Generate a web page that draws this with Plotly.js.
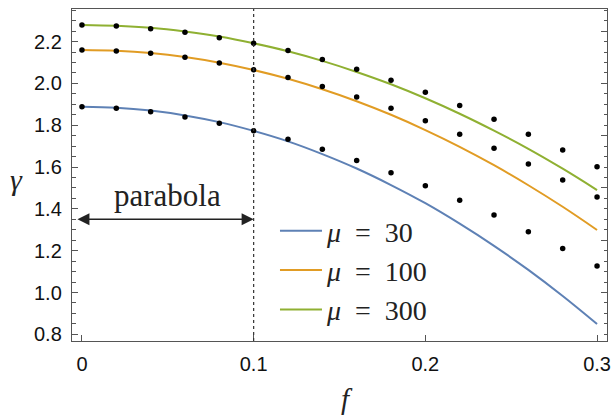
<!DOCTYPE html>
<html>
<head>
<meta charset="utf-8">
<script src="https://cdn.plot.ly/plotly-3.0.1.min.js"></script>
<style>html,body{margin:0;padding:0;background:#fff;}#chart{width:614px;height:419px;}</style>
</head>
<body>
<div id="chart"></div>
<script>
// f values (sampled points and curve nodes)
const fVals = [0, 0.02, 0.04, 0.06, 0.08, 0.10, 0.12, 0.14, 0.16, 0.18, 0.20, 0.22, 0.24, 0.26, 0.28, 0.30];

// fitted curves
const curve30  = [1.889, 1.884, 1.870, 1.847, 1.815, 1.773, 1.723, 1.662, 1.593, 1.514, 1.427, 1.329, 1.223, 1.108, 0.983, 0.849];
const curve100 = [2.160, 2.156, 2.145, 2.126, 2.099, 2.064, 2.022, 1.972, 1.915, 1.850, 1.777, 1.697, 1.609, 1.513, 1.410, 1.299];
const curve300 = [2.280, 2.276, 2.266, 2.248, 2.224, 2.192, 2.154, 2.108, 2.055, 1.996, 1.929, 1.855, 1.774, 1.687, 1.592, 1.490];

// data points (black dots)
const dots30  = [1.889, 1.881, 1.864, 1.840, 1.810, 1.774, 1.733, 1.685, 1.631, 1.573, 1.510, 1.441, 1.371, 1.291, 1.211, 1.127];
const dots100 = [2.160, 2.155, 2.144, 2.125, 2.098, 2.065, 2.028, 1.985, 1.935, 1.881, 1.822, 1.757, 1.690, 1.615, 1.538, 1.457];
const dots300 = [2.280, 2.275, 2.262, 2.245, 2.219, 2.192, 2.157, 2.114, 2.068, 2.015, 1.958, 1.894, 1.829, 1.757, 1.682, 1.602];

const seriesNames = ["<i>μ</i>\u2002=\u200230", "<i>μ</i>\u2002=\u2002100", "<i>μ</i>\u2002=\u2002300"];
const seriesColors = ["#5E81B5", "#E19C24", "#8FB032"];

const xTicks = [0, 0.1, 0.2, 0.3];
const xTickText = ["0", "0.1", "0.2", "0.3"];
const yTicks = [0.8, 1.0, 1.2, 1.4, 1.6, 1.8, 2.0, 2.2];
const yTickText = ["0.8", "1.0", "1.2", "1.4", "1.6", "1.8", "2.0", "2.2"];

const parabolaEnd = 0.1;

const curves = [curve30, curve100, curve300];
const dots = [dots30, dots100, dots300];

const traces = [];
curves.forEach((c, i) => {
  traces.push({
    x: fVals, y: c, type: 'scatter', mode: 'lines',
    name: seriesNames[i],
    line: {color: seriesColors[i], width: 2, shape: 'spline'},
    hoverinfo: 'skip'
  });
});
dots.forEach((d, i) => {
  traces.push({
    x: fVals, y: d, type: 'scatter', mode: 'markers',
    showlegend: false,
    marker: {color: '#000', size: 5.5}
  });
});
// invisible trace on the right axis for mirrored ticks
traces.push({x: [0], y: [1], yaxis: 'y2', mode: 'markers', marker: {opacity: 0}, showlegend: false, hoverinfo: 'skip'});

const frameColor = '#555';
const sansFont = {family: 'Liberation Sans', size: 20, color: '#111'};
const serif = 'Liberation Serif';

const layout = {
  width: 614, height: 419,
  margin: {l: 72, r: 7, t: 9, b: 78},
  paper_bgcolor: '#fff', plot_bgcolor: '#fff',
  showlegend: true,
  legend: {
    x: 0.3794, y: 0.4066, xanchor: 'left', yanchor: 'top',
    itemwidth: 42,
    font: {family: serif, size: 28, color: '#222'},
    bgcolor: 'rgba(0,0,0,0)', borderwidth: 0
  },
  xaxis: {
    range: [-0.0058, 0.3058],
    tickvals: xTicks, ticktext: xTickText,
    ticks: 'inside', ticklen: 6, tickwidth: 1, tickcolor: frameColor,
    ticklabelstandoff: 5,
    showline: true, linecolor: frameColor, linewidth: 1.2, mirror: true,
    showgrid: false, zeroline: false,
    tickfont: sansFont
  },
  yaxis: {
    range: [0.768, 2.356],
    tickvals: yTicks, ticktext: yTickText,
    ticks: 'inside', ticklen: 6, tickwidth: 1, tickcolor: frameColor,
    ticklabelstandoff: 5,
    minor: {dtick: 0.05, tick0: 0, ticks: 'inside', ticklen: 3.5, tickcolor: frameColor, showgrid: false},
    showline: true, linecolor: frameColor, linewidth: 1.2, mirror: true,
    showgrid: false, zeroline: false,
    tickfont: sansFont
  },
  yaxis2: {
    overlaying: 'y', side: 'right',
    range: [0.768, 2.356],
    dtick: 0.25, tick0: 0,
    ticks: 'inside', ticklen: 6, tickwidth: 1, tickcolor: frameColor,
    minor: {dtick: 0.05, tick0: 0, ticks: 'inside', ticklen: 3.5, tickcolor: frameColor, showgrid: false},
    showticklabels: false, showline: false, showgrid: false, zeroline: false
  },
  shapes: [{
    type: 'line', xref: 'x', yref: 'paper',
    x0: parabolaEnd, x1: parabolaEnd, y0: 0, y1: 1,
    line: {color: '#333', width: 1.2, dash: 'dot'}
  }],
  annotations: [
    {xref: 'paper', yref: 'paper', x: -0.103, y: 0.485, xanchor: 'center', yanchor: 'middle',
     text: '<i>γ</i>', showarrow: false, font: {family: serif, size: 30, color: '#222'}},
    {xref: 'paper', yref: 'paper', x: 0.514, y: -0.176, xanchor: 'center', yanchor: 'middle',
     text: '<i>f</i>', showarrow: false, font: {family: serif, size: 29, color: '#222'}},
    {xref: 'x', yref: 'y', x: parabolaEnd / 2, y: 1.462, xanchor: 'center', yanchor: 'middle',
     text: 'parabola', showarrow: false, font: {family: serif, size: 31, color: '#222'}},
    {xref: 'x', yref: 'y', axref: 'x', ayref: 'y',
     x: parabolaEnd, y: 1.35, ax: -0.0035, ay: 1.35, text: '',
     showarrow: true, arrowside: 'end+start', arrowhead: 2, startarrowhead: 2,
     arrowsize: 1.6, startarrowsize: 1.6, arrowwidth: 1.5, arrowcolor: '#222'}
  ]
};

Plotly.newPlot('chart', traces, layout, {staticPlot: true, displayModeBar: false});
</script>
</body>
</html>
